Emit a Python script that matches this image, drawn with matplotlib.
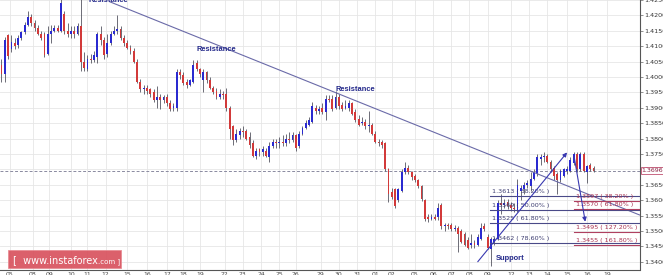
import matplotlib
matplotlib.use("Agg")
import matplotlib.pyplot as plt
import matplotlib.transforms as mtrans
from matplotlib.patches import Rectangle
import numpy as np

# H4 candles, oldest first
opens = [1.4040, 1.4010, 1.4135, 1.4090, 1.4110, 1.4105, 1.4125, 1.4145, 1.4170, 1.4195,
         1.4175, 1.4160, 1.4140, 1.4140, 1.4075, 1.4140, 1.4150, 1.4160, 1.4150, 1.4205,
         1.4150, 1.4140, 1.4150, 1.4140, 1.4165, 1.4050, 1.4025, 1.4060, 1.4055, 1.4065,
         1.4140, 1.4120, 1.4075, 1.4110, 1.4140, 1.4150, 1.4155, 1.4125, 1.4110, 1.4095,
         1.4085, 1.4050, 1.3985, 1.3960, 1.3965, 1.3960, 1.3950, 1.3925, 1.3935, 1.3925,
         1.3935, 1.3915, 1.3900, 1.3900, 1.4015, 1.4005, 1.3985, 1.3975, 1.3985, 1.4045,
         1.4025, 1.3990, 1.4015, 1.3990, 1.3965, 1.3955, 1.3935, 1.3945, 1.3945, 1.3900,
         1.3840, 1.3795, 1.3810, 1.3825, 1.3825, 1.3805, 1.3785, 1.3745, 1.3765, 1.3755,
         1.3760, 1.3740, 1.3775, 1.3790, 1.3785, 1.3790, 1.3785, 1.3800, 1.3795, 1.3810,
         1.3775, 1.3815, 1.3835, 1.3845, 1.3855, 1.3900, 1.3890, 1.3900, 1.3885, 1.3930,
         1.3930, 1.3900, 1.3935, 1.3910, 1.3900, 1.3900, 1.3915, 1.3885, 1.3865, 1.3850,
         1.3855, 1.3840, 1.3845, 1.3815, 1.3790, 1.3790, 1.3785, 1.3700, 1.3625, 1.3635,
         1.3600, 1.3630, 1.3690, 1.3705, 1.3690, 1.3680, 1.3665, 1.3645, 1.3600, 1.3545,
         1.3540, 1.3545, 1.3545, 1.3585, 1.3515, 1.3520, 1.3520, 1.3505, 1.3510, 1.3500,
         1.3490, 1.3470, 1.3455, 1.3460, 1.3455, 1.3475, 1.3515, 1.3480, 1.3440, 1.3465,
         1.3475, 1.3590, 1.3585, 1.3595, 1.3585, 1.3575, 1.3565, 1.3630, 1.3635, 1.3650,
         1.3645, 1.3670, 1.3685, 1.3735, 1.3740, 1.3745, 1.3725, 1.3705, 1.3685, 1.3665,
         1.3680, 1.3695, 1.3695, 1.3720, 1.3750, 1.3700, 1.3750, 1.3690, 1.3715, 1.3705]
highs = [1.4060, 1.4130, 1.4140, 1.4135, 1.4125, 1.4135, 1.4150, 1.4180, 1.4215, 1.4205,
         1.4185, 1.4170, 1.4150, 1.4145, 1.4165, 1.4170, 1.4170, 1.4170, 1.4260, 1.4215,
         1.4175, 1.4165, 1.4165, 1.4175, 1.4260, 1.4080, 1.4070, 1.4075, 1.4085, 1.4145,
         1.4165, 1.4130, 1.4140, 1.4150, 1.4165, 1.4200, 1.4165, 1.4135, 1.4120, 1.4105,
         1.4095, 1.4060, 1.3995, 1.3975, 1.3975, 1.3965, 1.3960, 1.3970, 1.3945, 1.3940,
         1.3945, 1.3925, 1.3915, 1.4025, 1.4025, 1.4015, 1.3995, 1.3995, 1.4055, 1.4055,
         1.4030, 1.4025, 1.4020, 1.4000, 1.3970, 1.3965, 1.3960, 1.3955, 1.3965, 1.3905,
         1.3845, 1.3830, 1.3835, 1.3840, 1.3830, 1.3820, 1.3795, 1.3770, 1.3770, 1.3775,
         1.3770, 1.3790, 1.3800, 1.3800, 1.3805, 1.3810, 1.3815, 1.3820, 1.3820, 1.3815,
         1.3825, 1.3840, 1.3860, 1.3870, 1.3920, 1.3910, 1.3905, 1.3915, 1.3940, 1.3940,
         1.3940, 1.3955, 1.3945, 1.3920, 1.3925, 1.3925, 1.3920, 1.3895, 1.3875, 1.3870,
         1.3865, 1.3890, 1.3850, 1.3825, 1.3800, 1.3795, 1.3790, 1.3705, 1.3640, 1.3640,
         1.3640, 1.3700, 1.3725, 1.3715, 1.3695, 1.3685, 1.3670, 1.3650, 1.3605, 1.3555,
         1.3555, 1.3555, 1.3590, 1.3590, 1.3525, 1.3525, 1.3525, 1.3520, 1.3515, 1.3505,
         1.3495, 1.3480, 1.3490, 1.3470, 1.3490, 1.3525, 1.3525, 1.3490, 1.3480, 1.3480,
         1.3600, 1.3620, 1.3605, 1.3605, 1.3595, 1.3590, 1.3670, 1.3650, 1.3660, 1.3665,
         1.3690, 1.3700, 1.3750, 1.3750, 1.3756, 1.3750, 1.3730, 1.3710, 1.3690, 1.3700,
         1.3705, 1.3710, 1.3740, 1.3758, 1.3755, 1.3755, 1.3755, 1.3715, 1.3720, 1.3710]
lows = [1.3985, 1.3985, 1.4060, 1.4080, 1.4090, 1.4095, 1.4120, 1.4140, 1.4165, 1.4165,
        1.4150, 1.4135, 1.4120, 1.4065, 1.4070, 1.4110, 1.4145, 1.4145, 1.4145, 1.4140,
        1.4130, 1.4125, 1.4125, 1.4135, 1.4020, 1.4018, 1.4020, 1.4045, 1.4050, 1.4045,
        1.4105, 1.4060, 1.4065, 1.4105, 1.4135, 1.4140, 1.4120, 1.4100, 1.4090, 1.4075,
        1.4045, 1.3980, 1.3950, 1.3945, 1.3945, 1.3935, 1.3920, 1.3900, 1.3895, 1.3915,
        1.3905, 1.3890, 1.3890, 1.3890, 1.3995, 1.3975, 1.3965, 1.3970, 1.3980, 1.4020,
        1.4000, 1.3950, 1.3980, 1.3960, 1.3945, 1.3930, 1.3930, 1.3930, 1.3890, 1.3800,
        1.3780, 1.3790, 1.3800, 1.3805, 1.3795, 1.3770, 1.3740, 1.3735, 1.3745, 1.3745,
        1.3740, 1.3725, 1.3770, 1.3770, 1.3770, 1.3775, 1.3775, 1.3785, 1.3790, 1.3760,
        1.3770, 1.3810, 1.3830, 1.3840, 1.3850, 1.3880, 1.3880, 1.3880, 1.3860, 1.3920,
        1.3890, 1.3895, 1.3895, 1.3890, 1.3895, 1.3890, 1.3875, 1.3855, 1.3840, 1.3845,
        1.3830, 1.3820, 1.3810, 1.3785, 1.3775, 1.3770, 1.3695, 1.3595, 1.3605, 1.3575,
        1.3595, 1.3625, 1.3685, 1.3685, 1.3665, 1.3660, 1.3640, 1.3598, 1.3533, 1.3530,
        1.3535, 1.3535, 1.3535, 1.3505, 1.3500, 1.3505, 1.3500, 1.3500, 1.3432, 1.3460,
        1.3450, 1.3440, 1.3445, 1.3445, 1.3450, 1.3470, 1.3500, 1.3440, 1.3386, 1.3455,
        1.3470, 1.3555, 1.3575, 1.3570, 1.3565, 1.3560, 1.3560, 1.3600, 1.3620, 1.3640,
        1.3630, 1.3665, 1.3680, 1.3715, 1.3725, 1.3720, 1.3690, 1.3665, 1.3620, 1.3660,
        1.3675, 1.3685, 1.3690, 1.3715, 1.3690, 1.3695, 1.3690, 1.3655, 1.3695, 1.3690]
closes = [1.4010, 1.4120, 1.4068, 1.4115, 1.4100, 1.4125, 1.4145, 1.4170, 1.4195, 1.4175,
          1.4160, 1.4140, 1.4125, 1.4070, 1.4140, 1.4150, 1.4160, 1.4150, 1.4240, 1.4150,
          1.4140, 1.4150, 1.4140, 1.4165, 1.4050, 1.4030, 1.4060, 1.4055, 1.4070, 1.4140,
          1.4120, 1.4070, 1.4110, 1.4140, 1.4150, 1.4155, 1.4125, 1.4110, 1.4095, 1.4085,
          1.4050, 1.3985, 1.3960, 1.3965, 1.3955, 1.3945, 1.3925, 1.3935, 1.3925, 1.3935,
          1.3915, 1.3895, 1.3905, 1.4015, 1.4005, 1.3980, 1.3975, 1.3990, 1.4040, 1.4025,
          1.4010, 1.4015, 1.3990, 1.3965, 1.3950, 1.3935, 1.3945, 1.3940, 1.3900, 1.3830,
          1.3795, 1.3815, 1.3825, 1.3820, 1.3800, 1.3780, 1.3745, 1.3760, 1.3755, 1.3765,
          1.3745, 1.3775, 1.3790, 1.3785, 1.3790, 1.3785, 1.3800, 1.3795, 1.3810, 1.3770,
          1.3815, 1.3835, 1.3850, 1.3860, 1.3905, 1.3890, 1.3895, 1.3885, 1.3930, 1.3925,
          1.3895, 1.3935, 1.3905, 1.3895, 1.3905, 1.3915, 1.3880, 1.3860, 1.3845, 1.3855,
          1.3840, 1.3845, 1.3815, 1.3790, 1.3785, 1.3780, 1.3700, 1.3620, 1.3610, 1.3580,
          1.3635, 1.3690, 1.3705, 1.3690, 1.3675, 1.3665, 1.3645, 1.3605, 1.3540, 1.3540,
          1.3545, 1.3540, 1.3575, 1.3515, 1.3520, 1.3515, 1.3505, 1.3510, 1.3490, 1.3465,
          1.3455, 1.3445, 1.3460, 1.3455, 1.3480, 1.3510, 1.3505, 1.3445, 1.3475, 1.3475,
          1.3590, 1.3585, 1.3590, 1.3580, 1.3575, 1.3570, 1.3650, 1.3640, 1.3650, 1.3655,
          1.3670, 1.3690, 1.3740, 1.3740, 1.3745, 1.3725, 1.3700, 1.3680, 1.3665, 1.3695,
          1.3700, 1.3700, 1.3730, 1.3750, 1.3700, 1.3750, 1.3695, 1.3710, 1.3700, 1.3696]

day_labels = ["05", "08", "09", "10", "11", "12", "15", "16", "17", "18", "19",
              "22", "23", "24", "25", "26", "29", "30", "31", "01", "02",
              "05", "06", "07", "08", "09", "12", "13", "14", "15", "16", "19"]
day_ticks = [2.5, 9.5, 14.5, 21, 26, 31.5, 38, 44, 50, 55, 60,
             67.5, 73, 78.5, 84, 89, 96.5, 102, 107.5, 113, 118,
             125, 130.5, 136, 141.5, 147, 154, 159.5, 165, 171, 177, 183]
price_ticks = [1.3400, 1.3450, 1.3500, 1.3550, 1.3600, 1.3650, 1.3700, 1.3750, 1.3800,
               1.3850, 1.3900, 1.3950, 1.4000, 1.4050, 1.4100, 1.4150, 1.4200, 1.4250]
last_price = 1.3696

# retracement (blue) and extension (red) levels
fib_left_levels = [1.3613, 1.3569, 1.3525, 1.3462]
fib_left_pct = ["38.20%", "50.00%", "61.80%", "78.60%"]
fib_left_start = 147.7
fib_right_levels = [1.3597, 1.3570, 1.3495, 1.3455]
fib_right_pct = ["38.20%", "61.80%", "127.20%", "161.80%"]
fib_right_start = 173.2

# trend line and marks
res_line_x = [32.8, 192.9]
res_line_y = [1.4244, 1.3552]
notes = [("Resistance", 26.2, 1.4250), ("Resistance", 58.9, 1.4089),
         ("Resistance", 101.0, 1.3960), ("Support", 149.5, 1.3409)]
arrow_up = ((144.0, 1.3400), (171.0, 1.3755))
arrow_down = ((173.1, 1.3744), (176.5, 1.3530))

W, H = 663, 275
fig = plt.figure(figsize=(W / 100, H / 100), dpi=100)
ax = fig.add_axes([0, 5.5 / H, 639.5 / W, 269.5 / H])
ax.set_xlim(-0.45, 192.9)
ax.set_ylim(1.33748, 1.42442)

o = np.array(opens); c = np.array(closes)
x = np.arange(len(o))
up = c >= o
ax.vlines(x, lows, highs, color="#555560", lw=0.6, zorder=3)
body = np.maximum(np.abs(c - o), 0.00012)
ax.bar(x, body, bottom=np.minimum(o, c), width=0.55,
       color=np.where(up, "#2a2ad0", "#d23a3a"), lw=0, zorder=4)

# grid
ax.set_xticks(day_ticks)
ax.set_xticklabels(day_labels)
ax.set_yticks(price_ticks)
ax.set_yticklabels(["%.4f" % p for p in price_ticks])
ax.grid(True, color="#e6e6e6", lw=0.6, zorder=0)
ax.set_axisbelow(True)
ax.yaxis.tick_right()
ax.tick_params(axis="y", direction="out", length=2.5, width=0.5, colors="#666666",
               labelsize=4.6, pad=1, labelcolor="#333333")
ax.tick_params(axis="x", length=0, labelsize=4.4, pad=1.5, labelcolor="#444444")
for s in ["left", "top"]:
    ax.spines[s].set_visible(False)
for s in ["right", "bottom"]:
    ax.spines[s].set_color("#555555")
    ax.spines[s].set_linewidth(0.8)

# last price
ax.axhline(last_price, color="#8a8aa0", lw=0.7, ls=(0, (3, 2)), zorder=2)
tr = mtrans.blended_transform_factory(ax.transAxes, ax.transData)
ax.text(1.0035, last_price, "%.4f" % last_price, transform=tr, fontsize=4.5,
        color="#8a2040", va="center", ha="left", clip_on=False, zorder=10,
        bbox=dict(boxstyle="square,pad=0.18", fc="white", ec="#c05070", lw=0.6))

# resistance line
ax.plot(res_line_x, res_line_y, color="#6a6aa8", lw=0.8, zorder=5)

# fib levels
for lv, pc in zip(fib_left_levels, fib_left_pct):
    ax.plot([fib_left_start, 192.9], [lv, lv], color="#4a4a88", lw=0.8, zorder=5)
    ax.annotate("%.4f ( %s )" % (lv, pc), (fib_left_start + 0.5, lv), xytext=(0, 1.5),
                textcoords="offset points", fontsize=4.6, color="#3c3c70",
                va="bottom", zorder=6)
for lv, pc in zip(fib_right_levels, fib_right_pct):
    ax.plot([fib_right_start, 192.9], [lv, lv], color="#b04060", lw=0.8, zorder=5)
    ax.annotate("%.4f ( %s )" % (lv, pc), (fib_right_start + 0.5, lv), xytext=(0, 1.5),
                textcoords="offset points", fontsize=4.6, color="#a83250",
                va="bottom", zorder=6)

# arrows
for a, b in [arrow_up, arrow_down]:
    ax.annotate("", xy=b, xytext=a, zorder=7,
                arrowprops=dict(arrowstyle="-|>", color="#3838b0", lw=0.8,
                                mutation_scale=6, shrinkA=0, shrinkB=0))

for txt, nx, ny in notes:
    ax.text(nx, ny, txt, fontsize=5.4, fontweight="bold", color="#23288a",
            va="center", ha="left", family="Liberation Sans", zorder=8)

# watermark
fig.patches.append(Rectangle((8 / W, (H - 268) / H), 113 / W, 18 / H,
                             transform=fig.transFigure, fc="#d8525e", ec="#e88a92",
                             lw=0.6, alpha=0.92, zorder=20))
t1 = fig.text(13 / W, (H - 263) / H, "[  www.instaforex", fontsize=7, color="white",
              va="baseline", zorder=21)
fig.canvas.draw()
bb = t1.get_window_extent()
fig.text(bb.x1 / W, (H - 263) / H, ".com ]", fontsize=5, color="white",
         va="baseline", zorder=21)

fig.savefig("out.png", dpi=100)
